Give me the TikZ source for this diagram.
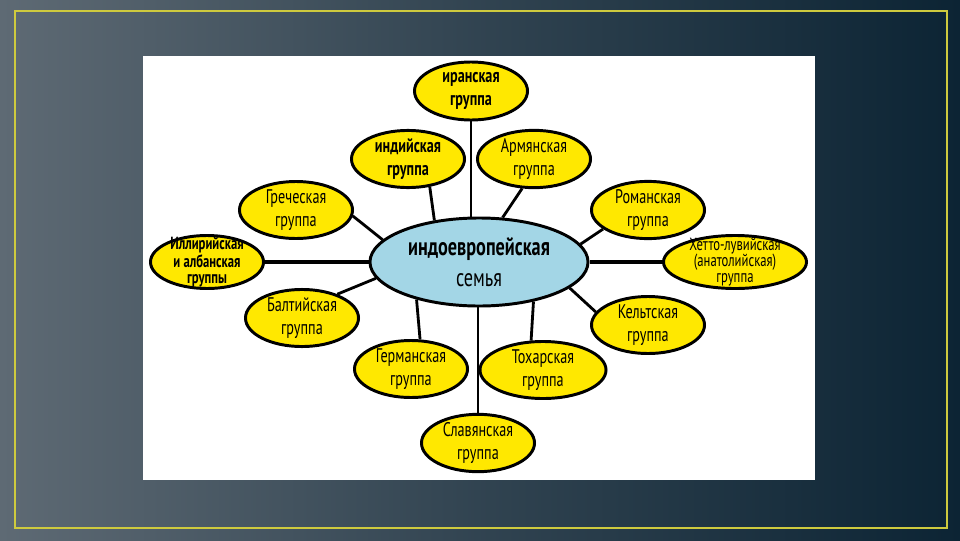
\documentclass[tikz,border=0pt]{standalone}
\usepackage{fontspec}
\setmainfont[FakeStretch=0.72]{PT Sans}
\usepackage{tikz}
\usetikzlibrary{shapes.geometric}
\definecolor{bggray}{RGB}{94,106,116}
\definecolor{bgnavy}{RGB}{12,36,52}
\definecolor{framey}{RGB}{206,202,62}
\definecolor{grpyellow}{RGB}{255,232,0}
\definecolor{famblue}{RGB}{163,214,230}

\begin{document}
\begin{tikzpicture}[%
		x=0.025cm, y=-0.025cm,
		group/.style={ellipse, draw, line width=2.1pt, fill=grpyellow,
			inner sep=0pt, minimum width=2.825cm, minimum height=1.325cm,
			align=center, font=\fontsize{14}{16}\selectfont},
		boldgroup/.style={group, font=\fontsize{14}{16}\selectfont\bfseries},
		threeline/.style={inner ysep=-5pt, inner xsep=-1pt, font=\fontsize{12.5}{11.5}\selectfont},
		family/.style={ellipse, draw, line width=2.1pt, fill=famblue,
			inner sep=0pt, minimum width=5.45cm, minimum height=2.2cm,
			align=center, font=\fontsize{18}{22}\selectfont},
		link/.style={line width=2pt},
		thicklink/.style={line width=3pt}]
		\shade[left color=bggray, right color=bgnavy, middle color=bggray!45!bgnavy]
			(0,0) rectangle (960,540);
		\useasboundingbox (0,0) rectangle (960,540);
		\draw[framey, line width=1.4pt] (15,11) rectangle (947,528);
		\fill[white] (143,56) rectangle (815,480);

		\node[family] (fam) at (479,262) {\textbf{индоевропейская}\\семья};

		\node[boldgroup, minimum height=1.45cm] (iran) at (471,91) {иранская\\группа};
		\node[boldgroup] (ind) at (408,159) {индийская\\группа};
		\node[group] (arm) at (534,159) {Армянская\\группа};
		\node[group] (grk) at (296,210) {Греческая\\группа};
		\node[group] (rom) at (648,210) {Романская\\группа};
		\node[boldgroup, threeline, font=\fontsize{12.5}{11.5}\selectfont\bfseries]
			(ill) at (207,262) {Иллирийская\\и албанская\\группы};
		\node[group, threeline, minimum width=3.575cm]
			(het) at (735,262) {Хетто-лувийская\\(анатолийская)\\группа};
		\node[group] (blt) at (302,318) {Балтийская\\группа};
		\node[group] (kel) at (648,325) {Кельтская\\группа};
		\node[group] (ger) at (411,369) {Германская\\группа};
		\node[group, minimum width=3.15cm] (tox) at (543,370) {Тохарская\\группа};
		\node[group] (slv) at (478,443) {Славянская\\группа};

		\draw[link] (iran) -- (iran |- fam.north);
		\draw[link] (ind.308) -- (fam.137);
		\draw[link] (arm.248) -- (fam.62);
		\draw[link] (grk.354) -- (fam.167);
		\draw[link] (rom.203) -- (fam.10);
		\draw[thicklink] (ill) -- (fam);
		\draw[thicklink] (het) -- (fam);
		\draw[link] (blt.34) -- (fam.189);
		\draw[link] (kel.166) -- (fam.344);
		\draw[link] (ger.73) -- (fam.211);
		\draw[link] (tox.112) -- (fam.324);
		\draw[link] (slv) -- (slv |- fam.south);
	\end{tikzpicture}
\end{document}
